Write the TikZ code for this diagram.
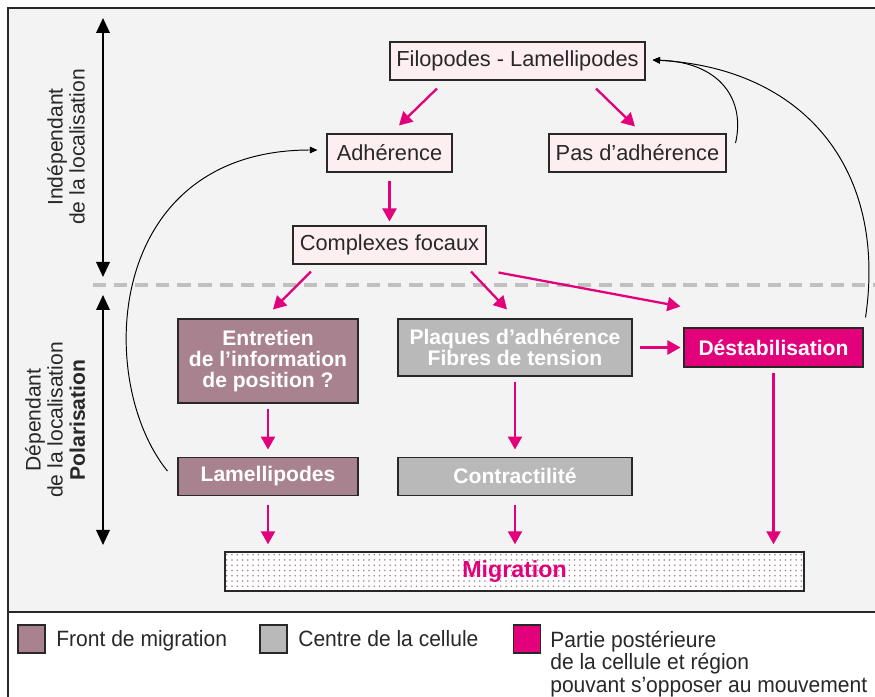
\documentclass[tikz,border=0pt]{standalone}
\usepackage{fontspec}
\setmainfont{Liberation Sans}
\newfontfamily\legendfont{Liberation Sans}[FakeStretch=0.95]
\usetikzlibrary{arrows.meta,positioning,calc,patterns}
\definecolor{ink}{RGB}{40,40,40}
\definecolor{fond}{RGB}{243,243,243}
\definecolor{rose}{RGB}{253,238,241}
\definecolor{mauve}{RGB}{169,130,143}
\definecolor{gris}{RGB}{185,185,185}
\definecolor{fuchsia}{RGB}{227,0,123}
\definecolor{tiret}{RGB}{192,192,192}
\tikzset{
  etape/.style={draw=ink,line width=0.6pt,fill=rose,text=ink,inner sep=0pt,
    minimum height=7.6mm,font=\fontsize{12.4}{14}\selectfont},
  zone/.style={draw=ink,line width=0.6pt,text=white,inner sep=0pt,align=center,
    font=\fontsize{12}{12.2}\selectfont\bfseries},
  front/.style={zone,fill=mauve},
  centre/.style={zone,fill=gris},
  arriere/.style={zone,fill=fuchsia},
  arr/.style={-{Triangle[length=2.6mm,width=2.8mm]},line width=1.3pt,fuchsia},
  boucle/.style={-{Triangle[length=1.5mm,width=1.3mm]},line width=0.55pt,black},
  duree/.style={{Triangle[length=3mm,width=2.7mm]}-{Triangle[length=3mm,width=2.7mm]},
    line width=1.1pt,black},
  axe/.style={rotate=90,align=center,text=ink,font=\fontsize{12}{12.6}\selectfont},
  cle/.style={draw=ink,line width=0.6pt,minimum width=5.4mm,minimum height=5.6mm,inner sep=0pt},
  legende/.style={inner sep=0pt,text=ink,align=left,font=\legendfont\fontsize{12.6}{12.8}\selectfont},
}
\begin{document}
\begin{tikzpicture}[x=0.2mm,y=-0.2mm]
  \useasboundingbox (0,0) rectangle (875,697);
  % cadre et fond
  \fill[fond] (8,8) rectangle (875,612);
  \draw[ink,line width=0.8pt] (8,697) -- (8,8) -- (875,8);
  \draw[ink,line width=0.8pt] (8,612) -- (875,612);
  \coordinate (sepG) at (93,285); \coordinate (sepD) at (875,285);
  \draw[tiret,line width=2.2pt,dash pattern=on 7.5pt off 4.5pt] (sepG) -- (sepD);

  % axes a gauche
  \coordinate (indH) at (103,18);  \coordinate (indB) at (103,277);
  \coordinate (depH) at (103,295); \coordinate (depB) at (103,545);
  \draw[duree] (indH) -- (indB);
  \draw[duree] (depH) -- (depB);
  \node[axe] (indep) at (66,147) {Indépendant\\de la localisation};
  \node[axe] (dep) at (55,420) {Dépendant\\de la localisation\\\textbf{Polarisation}};

  % etapes
  \node[etape,minimum width=51mm] (filo) at (517.5,61) {Filopodes - Lamellipodes};
  \node[etape,minimum width=25mm] (adh) at (389.5,153) {Adhérence};
  \node[etape,minimum width=35.4mm] (pas) at (637.5,153) {Pas d’adhérence};
  \node[etape,minimum width=38.6mm] (cf) at (389.5,245) {Complexes focaux};
  \node[front,minimum width=36mm,minimum height=16.8mm] (ent) at (268,361)
    {Entretien\\de l’information\\de position ?};
  \node[centre,minimum width=46.8mm,minimum height=11.4mm] (plq) at (515,347.5)
    {Plaques d’adhérence\\Fibres de tension};
  \node[arriere,minimum width=35.8mm,minimum height=7.8mm] (dest) at (773.5,347.5)
    {Déstabilisation};
  \node[front,minimum width=36mm,minimum height=7.6mm,below=10.6mm of ent] (lam)
    {Lamellipodes};
  \node[centre,minimum width=46.8mm,minimum height=7.6mm,below=16mm of plq] (ctr)
    {Contractilité};
  \node[draw=ink,line width=0.8pt,preaction={fill=white},pattern=dots,
    pattern color=mauve,minimum width=115.8mm,minimum height=7.8mm,inner sep=0pt,
    text=fuchsia,font=\fontsize{13.2}{14}\selectfont\bfseries] (mig) at (514.5,571.5)
    {Migration};

  % fleches
  \draw[arr] ($(filo.south)+(-80.5,8)$) -- ($(adh.north)+(9.5,-8)$);
  \draw[arr] ($(filo.south)+(78.5,8)$) -- ($(pas.north)+(-2.5,-7)$);
  \draw[arr] ($(adh.south)+(0,8)$) -- ($(cf.north)+(0,-4)$);
  \draw[arr] ($(cf.south)+(-78.5,7)$) -- ($(ent.north)+(5,-9)$);
  \draw[arr] ($(cf.south)+(81.5,7)$) -- ($(plq.north)+(-8,-9)$);
  \draw[arr] ($(cf.south east)+(12,8)$) -- ($(dest.north west)+(-3,-21)$);
  \draw[arr] ($(plq.east)+(7,0)$) -- ($(dest.west)+(-3,0)$);
  \draw[arr] ($(ent.south)+(0,5)$) -- ($(lam.north)+(0,-7)$);
  \draw[arr] ($(plq.south)+(0,5)$) -- ($(ctr.north)+(0,-7)$);
  \draw[arr] ($(lam.south)+(0,9)$) -- ($(lam.south |- mig.north)+(0,-7)$);
  \draw[arr] ($(ctr.south)+(0,9)$) -- ($(ctr.south |- mig.north)+(0,-7)$);
  \draw[arr] ($(dest.south)+(0,5)$) -- ($(dest.south |- mig.north)+(0,-7)$);

  % retours
  \draw[boucle] ($(lam.west)+(-10,-5)$) .. controls +(-73,-90) and +(-213,0) .. ($(adh.west)+(-9,-3)$);
  \draw[boucle] ($(pas.east)+(9,-10)$) .. controls +(10,-43) and +(68,2) .. ($(filo.east)+(7,-1)$);
  \draw[boucle] ($(dest.north east)+(2,-10)$) .. controls +(22,-150) and +(150,8) .. ($(filo.east)+(7,-1)$);

  % legende
  \node[cle,fill=mauve] (kfront) at (31.5,639) {};
  \node[legende,anchor=base west] (lfront) at (56,647) {Front de migration};
  \node[cle,fill=gris] (kcentre) at (273.5,639) {};
  \node[legende,anchor=base west] (lcentre) at (298,647) {Centre de la cellule};
  \node[cle,fill=fuchsia] (karriere) at (527,639) {};
  \node[legende,anchor=north west] (larriere) at (550,630.5)
    {Partie postérieure\\de la cellule et région\\pouvant s’opposer au mouvement};
\end{tikzpicture}
\end{document}
